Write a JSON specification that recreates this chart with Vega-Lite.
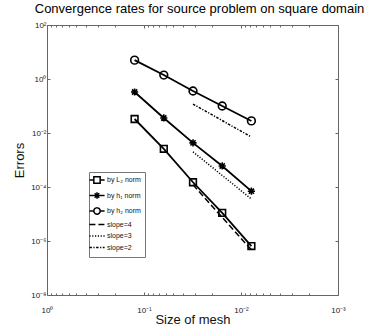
{
  "$schema": "https://vega.github.io/schema/vega-lite/v6.json",
  "autosize": {"type": "none"},
  "width": 291,
  "height": 270,
  "padding": {"left": 47, "top": 25, "right": 35, "bottom": 38},
  "background": "white",
  "config": {
    "font": "Liberation Sans",
    "view": {"stroke": null},
    "axis": {"domainColor": "#666", "tickColor": "#666", "labelColor": "#222", "labelFont": "Liberation Sans", "titleFont": "Liberation Sans", "titleFontWeight": "normal", "titleColor": "#111", "grid": false}
  },
  "title": {"text": "Convergence rates for source problem on square domain", "fontSize": 13, "fontWeight": "normal", "font": "Liberation Sans", "color": "#000", "offset": 5, "frame": "group", "dx": 7},
  "data": {"values": [
    {"h": 0.125, "e": 0.033, "s": "by L₂ norm"},
    {"h": 0.0625, "e": 0.0026, "s": "by L₂ norm"},
    {"h": 0.03125, "e": 0.00015, "s": "by L₂ norm"},
    {"h": 0.015625, "e": 0.000011, "s": "by L₂ norm"},
    {"h": 0.0078125, "e": 0.00000065, "s": "by L₂ norm"},
    {"h": 0.125, "e": 0.33, "s": "by h₁ norm"},
    {"h": 0.0625, "e": 0.036, "s": "by h₁ norm"},
    {"h": 0.03125, "e": 0.0043, "s": "by h₁ norm"},
    {"h": 0.015625, "e": 0.0006, "s": "by h₁ norm"},
    {"h": 0.0078125, "e": 0.00007, "s": "by h₁ norm"},
    {"h": 0.125, "e": 5.0, "s": "by h₂ norm"},
    {"h": 0.0625, "e": 1.4, "s": "by h₂ norm"},
    {"h": 0.03125, "e": 0.36, "s": "by h₂ norm"},
    {"h": 0.015625, "e": 0.1, "s": "by h₂ norm"},
    {"h": 0.0078125, "e": 0.028, "s": "by h₂ norm"},
    {"h": 0.03125, "e": 0.00012, "s": "slope=4"},
    {"h": 0.0078125, "e": 0.00000047, "s": "slope=4"},
    {"h": 0.03125, "e": 0.002, "s": "slope=3"},
    {"h": 0.0078125, "e": 0.000036, "s": "slope=3"},
    {"h": 0.03125, "e": 0.118, "s": "slope=2"},
    {"h": 0.0078125, "e": 0.0071, "s": "slope=2"}
  ]},
  "resolve": {"axis": {"x": "independent", "y": "independent"}, "scale": {"shape": "independent", "size": "independent", "strokeDash": "independent"}},
  "layer": [
    {
      "transform": [{"filter": "indexof(['slope=4','slope=3','slope=2'], datum.s) < 0"}],
      "mark": {"type": "line", "color": "black", "strokeWidth": 1.8},
      "encoding": {
        "x": {"field": "h", "type": "quantitative", "scale": {"type": "log", "domain": [0.001, 1], "reverse": true},
          "axis": {"orient": "bottom", "title": "Size of mesh", "titleFontSize": 13, "titlePadding": -2,
            "values": [1, 0.9, 0.8, 0.7, 0.6, 0.5, 0.4, 0.3, 0.2, 0.1, 0.09, 0.08, 0.07, 0.06, 0.05, 0.04, 0.03, 0.02, 0.01, 0.009, 0.008, 0.007, 0.006, 0.005, 0.004, 0.003, 0.002, 0.001],
            "labelExpr": "datum.value == 1 ? '10⁰' : datum.value == 0.1 ? '10⁻¹' : datum.value == 0.01 ? '10⁻²' : datum.value == 0.001 ? '10⁻³' : ''",
            "labelFontSize": 8, "labelFlush": false, "labelOverlap": false, "labelPadding": 14,
            "tickSize": {"condition": {"test": "indexof([1,0.1,0.01,0.001], datum.value) >= 0", "value": -3}, "value": -2}}},
        "y": {"field": "e", "type": "quantitative", "scale": {"type": "log", "domain": [1e-8, 100]},
          "axis": {"orient": "left", "title": "Errors", "titleFontSize": 13, "titlePadding": 4,
            "values": [100, 1, 0.01, 0.0001, 0.000001, 0.00000001],
            "labelExpr": "datum.value == 100 ? '10²' : datum.value == 1 ? '10⁰' : datum.value == 0.01 ? '10⁻²' : datum.value == 0.0001 ? '10⁻⁴' : datum.value == 0.000001 ? '10⁻⁶' : '10⁻⁸'",
            "labelFontSize": 8, "labelPadding": 4, "labelOverlap": false, "tickSize": -3}},
        "detail": {"field": "s"}
      }
    },
    {
      "transform": [{"filter": "indexof(['slope=4','slope=3','slope=2'], datum.s) >= 0"}],
      "mark": {"type": "line", "color": "black", "strokeWidth": 1.5},
      "encoding": {
        "x": {"field": "h", "type": "quantitative", "scale": {"type": "log", "domain": [0.001, 1], "reverse": true},
          "axis": {"orient": "top", "title": null, "labels": false,
            "values": [1, 0.9, 0.8, 0.7, 0.6, 0.5, 0.4, 0.3, 0.2, 0.1, 0.09, 0.08, 0.07, 0.06, 0.05, 0.04, 0.03, 0.02, 0.01, 0.009, 0.008, 0.007, 0.006, 0.005, 0.004, 0.003, 0.002, 0.001],
            "tickSize": {"condition": {"test": "indexof([1,0.1,0.01,0.001], datum.value) >= 0", "value": -3}, "value": -2}}},
        "y": {"field": "e", "type": "quantitative", "scale": {"type": "log", "domain": [1e-8, 100]},
          "axis": {"orient": "right", "title": null, "labels": false, "values": [100, 1, 0.01, 0.0001, 0.000001, 0.00000001], "tickSize": -3}},
        "strokeDash": {"field": "s", "type": "nominal", "scale": {"domain": ["slope=4", "slope=3", "slope=2"], "range": [[6, 3], [1.2, 1.6], [2.5, 1.5, 1.2, 1.5]]}, "legend": null}
      }
    },
    {
      "transform": [{"filter": "indexof(['slope=4','slope=3','slope=2'], datum.s) < 0"}],
      "mark": {"type": "point", "filled": false, "color": "black", "strokeWidth": 1.6, "opacity": 1},
      "encoding": {
        "x": {"field": "h", "type": "quantitative", "axis": null},
        "y": {"field": "e", "type": "quantitative", "axis": null},
        "shape": {"field": "s", "type": "nominal",
          "scale": {"domain": ["by L₂ norm", "by h₁ norm", "by h₂ norm"],
            "range": ["square", "M-1,0H1M0,-1V1M-0.72,-0.72L0.72,0.72M-0.72,0.72L0.72,-0.72", "circle"]},
          "legend": null},
        "size": {"field": "s", "type": "nominal", "scale": {"domain": ["by L₂ norm", "by h₁ norm", "by h₂ norm"], "range": [45, 60, 80]}, "legend": null}
      }
    },
    {
      "transform": [{"filter": "false"}],
      "mark": {"type": "point", "filled": false, "color": "black", "strokeWidth": 1.3, "opacity": 1, "size": 40},
      "encoding": {
        "x": {"field": "h", "type": "quantitative", "axis": null},
        "y": {"field": "e", "type": "quantitative", "axis": null},
        "shape": {"field": "s", "type": "nominal",
          "scale": {"domain": ["by L₂ norm", "by h₁ norm", "by h₂ norm", "slope=4", "slope=3", "slope=2"],
            "range": ["M-2.4,0H-1M1,0H2.4M-1,-1H1V1H-1Z", "M-2.4,0H2.4M0,-1V1M-0.72,-0.72L0.72,0.72M-0.72,0.72L0.72,-0.72", "M-2.4,0H-1M1,0H2.4M-1,0A1,1 0 1,0 1,0A1,1 0 1,0 -1,0", "M0,-0.55M0,0.55M-2.4,0H2.4", "M0,-0.55M0,0.55M-2.4,0H2.4", "M0,-0.55M0,0.55M-2.4,0H2.4"]},
          "legend": {"title": null, "orient": "none", "legendX": 42, "legendY": 147, "padding": 4, "strokeColor": "#777", "fillColor": "white",
            "labelFontSize": 7, "labelFont": "Liberation Sans", "labelColor": "#111", "labelOffset": 6, "rowPadding": 1.5, "symbolSize": 40}},
        "strokeDash": {"field": "s", "type": "nominal",
          "scale": {"domain": ["by L₂ norm", "by h₁ norm", "by h₂ norm", "slope=4", "slope=3", "slope=2"], "range": [[1, 0], [1, 0], [1, 0], [6, 3], [1.2, 1.6], [2.5, 1.5, 1.2, 1.5]]},
          "legend": {"title": null, "orient": "none", "legendX": 42, "legendY": 147, "padding": 4, "strokeColor": "#777", "fillColor": "white",
            "labelFontSize": 7, "labelFont": "Liberation Sans", "labelColor": "#111", "labelOffset": 6, "rowPadding": 1.5, "symbolSize": 40}}
      }
    }
  ]
}
